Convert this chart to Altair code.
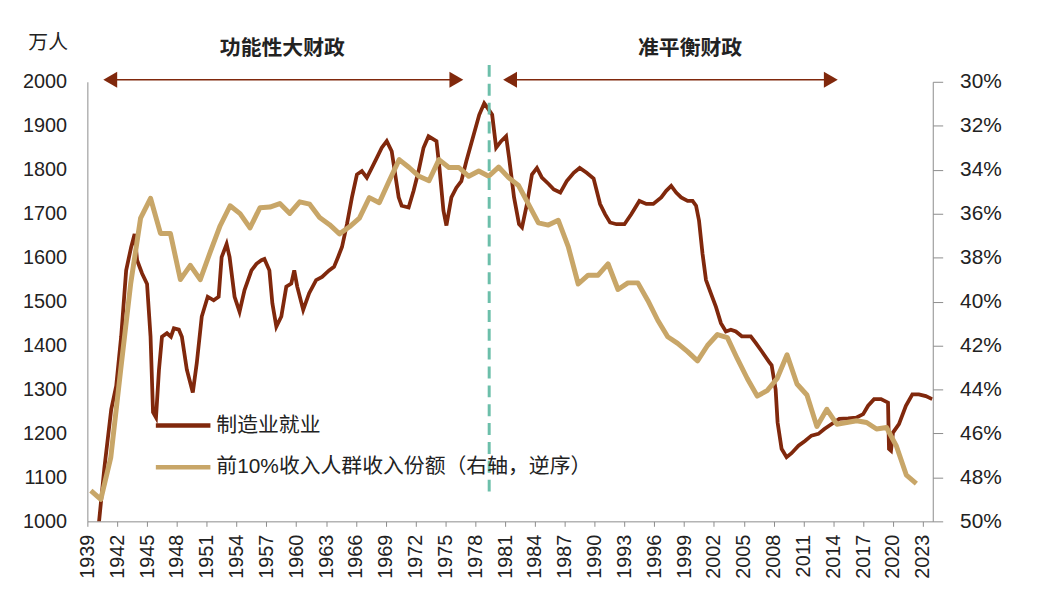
import altair as alt
import pandas as pd

# ---------------- data ----------------
# manufacturing employment, 万人 (sub-annual readings, fractional years)
emp_time = [
    1940.0, 1940.7, 1941.4, 1941.9, 1942.4, 1942.9, 1943.4, 1943.75, 1944.0, 1944.5,
    1945.0, 1945.35, 1945.6, 1945.9, 1946.2, 1946.5, 1947.0, 1947.4, 1947.7, 1948.2,
    1948.5, 1949.0, 1949.6, 1950.0, 1950.5, 1951.1, 1951.7, 1952.2, 1952.5, 1953.0,
    1953.3, 1953.8, 1954.3, 1954.8, 1955.5, 1956.0, 1956.5, 1956.8, 1957.3, 1957.6,
    1958.0, 1958.5, 1959.0, 1959.5, 1959.8, 1960.1, 1960.7, 1961.3, 1962.0, 1962.6,
    1963.3, 1963.8, 1964.2, 1964.6, 1965.1, 1965.6, 1966.1, 1966.6, 1967.1, 1967.6,
    1968.1, 1968.6, 1969.1, 1969.6, 1969.9, 1970.3, 1970.6, 1971.3, 1971.8, 1972.3,
    1972.8, 1973.3, 1974.1, 1974.4, 1974.8, 1975.1, 1975.6, 1976.1, 1976.6, 1977.1,
    1977.75, 1978.4, 1978.9, 1979.25, 1979.7, 1980.1, 1980.6, 1981.1, 1981.4, 1981.9,
    1982.4, 1982.7, 1983.2, 1983.7, 1984.2, 1984.7, 1985.4, 1985.9, 1986.55, 1987.2,
    1987.9, 1988.5, 1989.2, 1989.9, 1990.55, 1991.05, 1991.55, 1992.2, 1993.0, 1993.7,
    1994.5, 1995.2, 1995.9, 1996.7, 1997.2, 1997.7, 1998.2, 1998.7, 1999.35, 1999.85,
    2000.2, 2000.5, 2000.85, 2001.2, 2001.7, 2002.2, 2002.7, 2003.2, 2003.7, 2004.2,
    2004.8, 2005.7, 2006.2, 2006.8, 2007.5, 2007.8, 2008.2, 2008.4, 2008.8, 2009.3,
    2009.8, 2010.5, 2011.15, 2011.8, 2012.5, 2013.1, 2013.8, 2014.6, 2015.5, 2016.3,
    2017.0, 2017.5, 2018.1, 2018.8, 2019.5, 2019.6, 2019.8, 2020.0, 2020.6, 2021.3,
    2021.95, 2022.6, 2023.3, 2023.95,
]
emp_value = [
    960, 1120, 1255, 1308, 1421, 1571, 1624, 1654, 1594, 1564,
    1540, 1421, 1248, 1236, 1345, 1420, 1428, 1420, 1439, 1436,
    1420, 1345, 1293, 1360, 1466, 1511, 1503, 1511, 1601, 1631,
    1601, 1511, 1477, 1526, 1571, 1586, 1594, 1597, 1571, 1496,
    1443, 1466, 1534, 1541, 1571, 1534, 1481, 1519, 1549, 1556,
    1571, 1579, 1601, 1624, 1676, 1737, 1789, 1797, 1782, 1804,
    1827, 1850, 1865, 1842, 1797, 1737, 1718, 1714, 1752, 1797,
    1850, 1876, 1865, 1804, 1707, 1673, 1737, 1759, 1774, 1819,
    1872, 1925, 1951, 1940, 1925, 1850, 1865, 1876, 1827, 1737,
    1676, 1669, 1722, 1789, 1804, 1782, 1767, 1755, 1748, 1774,
    1793, 1804, 1793, 1780, 1722, 1699, 1680, 1676, 1676, 1699,
    1729, 1722, 1722, 1737, 1752, 1763, 1748, 1737, 1729, 1729,
    1718, 1684, 1609, 1549, 1518, 1488, 1451, 1432, 1436, 1432,
    1421, 1421, 1406, 1387, 1364, 1355, 1300, 1225, 1165, 1146,
    1155, 1172, 1183, 1195, 1199, 1210, 1221, 1233, 1234, 1236,
    1244, 1263, 1278, 1278, 1270, 1165, 1161, 1202, 1221, 1263,
    1289, 1289, 1285, 1278,
]

# top-10% income share, % (annual, 1939-2022)
share_year = list(range(1939, 2023))
share_value = [
    48.6, 49.0, 47.1, 43.1, 39.2, 36.2, 35.3, 36.9, 36.9, 39.0,
    38.35, 39.0, 37.75, 36.55, 35.64, 36.0, 36.65, 35.73, 35.7, 35.54,
    35.99, 35.46, 35.57, 36.17, 36.5, 36.92, 36.6, 36.2, 35.27, 35.5,
    34.5, 33.54, 33.9, 34.3, 34.5, 33.54, 33.9, 33.9, 34.3, 34.06,
    34.3, 33.88, 34.36, 34.72, 35.57, 36.42, 36.52, 36.3, 37.5, 39.2,
    38.8, 38.8, 38.28, 39.45, 39.15, 39.15, 39.95, 40.85, 41.6, 41.9,
    42.28, 42.7, 42.0, 41.5, 41.64, 42.6, 43.5, 44.3, 44.05, 43.5,
    42.42, 43.75, 44.25, 45.68, 44.9, 45.58, 45.5, 45.42, 45.5, 45.8,
    45.73, 46.58, 47.9, 48.28,
]

series_names = ["制造业就业", "前10%收入人群收入份额（右轴，逆序）"]
series_colors = ["#80280C", "#C8A668"]

x_ticks = list(range(1939, 2024, 3))
left_ticks = list(range(1000, 2001, 100))
right_ticks = list(range(30, 51, 2))

period_labels = ["功能性大财政", "准平衡财政"]
period_center = [1958.6, 1999.6]
period_tip_left = [1940.5, 1980.7]
period_tip_right = [1976.9, 2014.55]
divider_year = [1979.4]

# ---------------- styling constants ----------------
FONT = "Liberation Sans, Arial, Noto Sans CJK SC, sans-serif"
BROWN = series_colors[0]
TEAL = "#6CBFAA"
AXIS_GREY = "#8C8C8C"
TEXT = "#222222"
HEAD = 0.8  # arrow head half-length in years

x_scale = alt.Scale(domain=[1939, 2024], nice=False, zero=False)
color_scale = alt.Scale(domain=series_names, range=series_colors)

emp_df = pd.DataFrame({"t": emp_time, "v": emp_value, "series": series_names[0]})
share_df = pd.DataFrame({"year": share_year, "v": share_value, "series": series_names[1]})

legend = alt.Legend(
    title=None, orient="none", legendX=83, legendY=333, padding=0,
    symbolType="M-2.5,0H2.5", symbolSize=484, symbolStrokeWidth=4.5,
    labelFontSize=21, labelFont=FONT, labelColor=TEXT, labelOffset=20,
    labelLimit=800, rowPadding=18, direction="vertical",
)

x_axis = alt.Axis(
    values=x_ticks, format="d", labelAngle=-90, labelFontSize=20, labelFont=FONT,
    labelColor=TEXT, labelPadding=8, tickSize=5, tickColor=AXIS_GREY,
    domainColor=AXIS_GREY, grid=False, title=None, labelOverlap=False,
    labelBound=False, labelFlush=False,
)

brown = alt.Chart(emp_df).mark_line(strokeWidth=3.8, clip=True).encode(
    x=alt.X("t:Q", scale=x_scale, axis=x_axis),
    y=alt.Y(
        "v:Q",
        scale=alt.Scale(domain=[1000, 2000], nice=False, zero=False),
        axis=alt.Axis(
            orient="left", values=left_ticks, format="d", ticks=False, labelPadding=21,
            labelFontSize=20, labelFont=FONT, labelColor=TEXT,
            domainColor=AXIS_GREY, grid=False,
            title="万人", titleAngle=0, titleX=-40, titleY=-40,
            titleAlign="center", titleBaseline="middle", titleFontSize=20,
            titleFontWeight="normal", titleFont=FONT, titleColor=TEXT,
        ),
    ),
    color=alt.Color("series:N", scale=color_scale, legend=legend),
)

tan = alt.Chart(share_df).transform_calculate(
    xpos="datum.year + 0.35"
).mark_line(strokeWidth=5, strokeJoin="round").encode(
    x=alt.X("xpos:Q", scale=x_scale, axis=x_axis),
    y=alt.Y(
        "v:Q",
        scale=alt.Scale(domain=[30, 50], reverse=True, nice=False, zero=False),
        axis=alt.Axis(
            orient="right", values=right_ticks, labelExpr="datum.value + '%'",
            tickSize=10, tickColor=AXIS_GREY, labelPadding=17,
            labelFontSize=21, labelFont=FONT, labelColor=TEXT,
            domainColor=AXIS_GREY, grid=False, title=None,
        ),
    ),
    color=alt.Color("series:N", scale=color_scale, legend=legend),
)

div_df = pd.DataFrame({"year": divider_year})
divider = alt.Chart(div_df).mark_rule(
    color=TEAL, strokeWidth=3, strokeDash=[12, 7]
).encode(
    x=alt.X("year:Q", scale=x_scale, axis=x_axis),
    y=alt.value(-17), y2=alt.value(414),
)

per_df = pd.DataFrame({
    "label": period_labels, "center": period_center,
    "tl": period_tip_left, "tr": period_tip_right,
})

shaft = alt.Chart(per_df).transform_calculate(
    a=f"datum.tl + {HEAD}", b=f"datum.tr - {HEAD}"
).mark_rule(color=BROWN, strokeWidth=1.6).encode(
    x=alt.X("a:Q", scale=x_scale, axis=x_axis), x2="b:Q", y=alt.value(-2),
)

heads = alt.Chart(per_df).transform_fold(
    ["tl", "tr"], as_=["side", "tip"]
).transform_calculate(
    hx=f"datum.side == 'tl' ? datum.tip + {HEAD} : datum.tip - {HEAD}"
).mark_point(filled=True, opacity=1, color=BROWN, size=260).encode(
    x=alt.X("hx:Q", scale=x_scale, axis=x_axis),
    y=alt.value(-2),
    shape=alt.Shape(
        "side:N",
        scale=alt.Scale(domain=["tl", "tr"], range=["triangle-left", "triangle-right"]),
        legend=None,
    ),
)

labels = alt.Chart(per_df).mark_text(
    fontSize=21, fontWeight="bold", font=FONT, color=TEXT, baseline="middle"
).encode(
    x=alt.X("center:Q", scale=x_scale, axis=x_axis),
    y=alt.value(-33),
    text="label:N",
)

chart = alt.layer(brown, tan, divider, shaft, heads, labels).resolve_scale(
    y="independent"
).properties(
    width=852, height=443,
    autosize=alt.AutoSizeParams(type="none"),
    padding={"left": 80, "top": 72, "right": 98, "bottom": 90},
    background="white",
).configure_view(strokeWidth=0)

chart.save("out.html", embed_options={"renderer": "svg", "actions": False})
